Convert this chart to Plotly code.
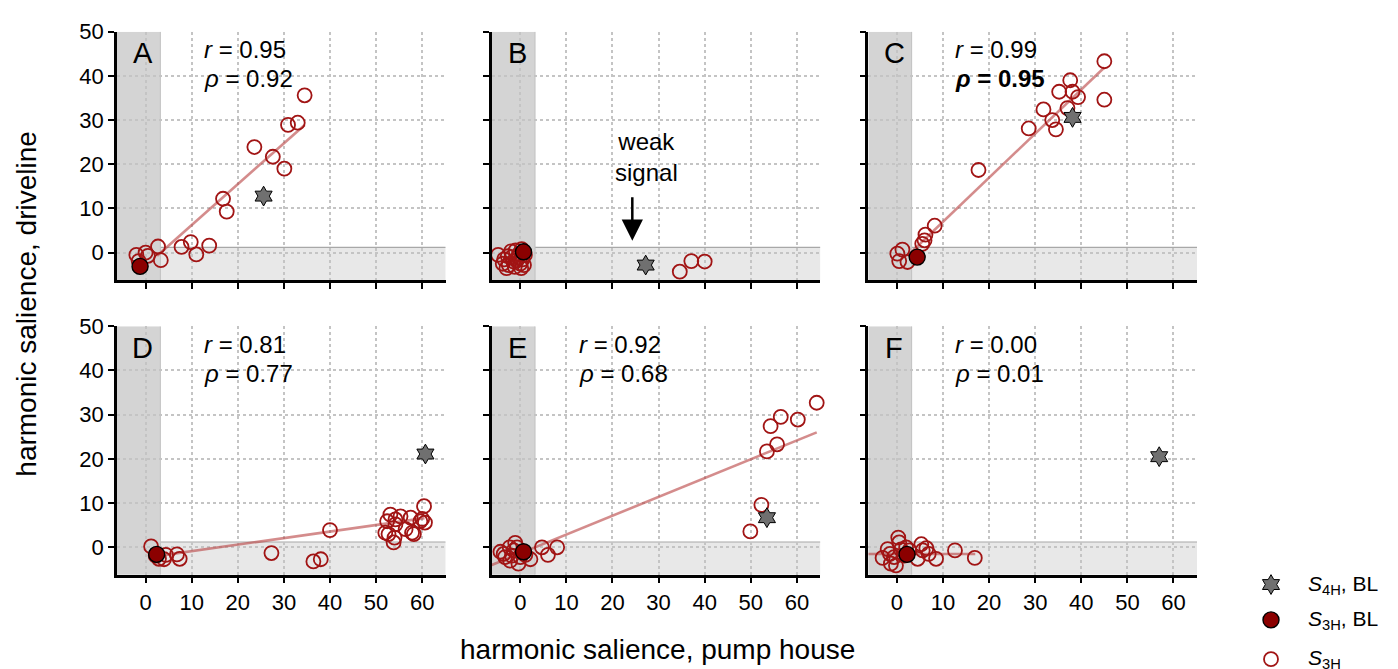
import plotly.graph_objects as go

# ---------------- data ----------------
panels = ["A", "B", "C", "D", "E", "F"]

A_x = [34.5, 30.9, 33.0, 23.6, 27.6, 30.1, 16.8, 17.6, 7.8, 9.8, 11.0, 13.8, 2.7, 3.3, -2.0, 0.0, 0.5, -1.5, -1.1]
A_y = [35.6, 28.9, 29.4, 23.9, 21.7, 19.0, 12.2, 9.3, 1.3, 2.4, -0.4, 1.6, 1.4, -1.7, -0.5, 0.0, -0.7, -1.9, -3.0]
B_x = [-4.8, -3.5, -2.5, -3.0, -1.5, -1.0, -0.5, 0.0, 0.5, -2.0, -1.2, 0.3, -0.3, 0.8, -2.7, 1.0, -0.8, -3.8, 0.2, -1.8, 34.6, 37.1, 40.0]
B_y = [-0.5, -1.5, -2.8, -3.5, -2.0, 0.5, -1.0, -2.5, -1.5, 0.3, -3.2, 0.8, -0.3, -2.8, -0.8, -0.5, -1.8, -2.5, -3.5, -1.0, -4.3, -1.9, -2.0]
C_x = [45.0, 45.0, 37.6, 35.2, 38.1, 39.3, 37.0, 31.8, 33.7, 34.5, 28.6, 17.7, 8.2, 6.2, 6.0, 5.5, 1.2, 0.1, 0.5, 2.3]
C_y = [43.3, 34.6, 39.0, 36.4, 36.4, 35.2, 32.7, 32.4, 30.0, 27.9, 28.1, 18.7, 6.1, 4.1, 2.8, 2.0, 0.7, -0.2, -1.9, -2.1]
D_x = [1.2, 2.2, 4.4, 4.0, 6.8, 7.4, 2.9, 27.3, 36.4, 38.0, 40.0, 52.4, 53.1, 54.2, 55.3, 52.0, 52.7, 53.8, 54.0,
       56.4, 57.5, 57.8, 58.2, 59.6, 60.0, 60.4, 60.6, 54.2]
D_y = [0.2, -1.9, -1.7, -2.7, -1.6, -2.6, -2.6, -1.3, -3.2, -2.7, 3.9, 5.9, 7.4, 6.3, 7.0, 3.3, 3.0, 1.1, 2.2,
       4.1, 6.7, 3.3, 3.0, 5.9, 6.4, 9.3, 5.6, 5.2]
E_x = [56.5, 54.3, 60.2, 64.3, 55.7, 53.5, 52.3, 49.9, -4.3, -3.3, -2.2, -1.4, -1.1, -0.4, -1.8, 2.2, 1.1, -0.7,
       -2.3, 4.7, 6.0, 8.0, 0.0, -3.6]
E_y = [29.5, 27.4, 28.9, 32.7, 23.3, 21.7, 9.6, 3.6, -1.0, -2.2, -3.0, -0.7, 1.0, -3.7, -1.9, -2.7, -1.7, 0.0,
       0.0, 0.0, -1.7, 0.0, -2.2, -1.5]
F_x = [-3.1, -2.0, -0.6, -1.3, -0.2, 0.3, 0.5, 0.9, 1.6, 2.7, 4.5, 5.3, 5.6, 6.4, 6.9, 8.5, 12.6, 16.9, -1.5, 2.0]
F_y = [-2.4, -0.4, -2.2, -3.7, -4.1, 2.2, 1.1, -0.5, -1.9, -0.7, -2.6, 0.7, -0.7, -0.2, -1.5, -2.6, -0.7, -2.4, -1.5, 0.0]

open_x = [A_x, B_x, C_x, D_x, E_x, F_x]
open_y = [A_y, B_y, C_y, D_y, E_y, F_y]

# S3H, BL (filled circle) per panel
bl3_x = [-1.2, 0.7, 4.4, 2.4, 0.7, 2.2]
bl3_y = [-3.1, 0.2, -1.0, -1.6, -1.0, -1.6]
# S4H, BL (star) per panel
bl4_x = [25.6, 27.2, 38.1, 60.7, 53.5, 56.9]
bl4_y = [12.8, -2.8, 30.6, 21.1, 6.7, 20.5]

# regression line endpoints (None = no line)
fit_x = [[2.5, 34.5], None, [2.3, 45.0], [2.4, 60.5], [-6.2, 64.3], [-6.2, 17.0]]
fit_y = [[-0.7, 28.9], None, [-0.7, 41.9], [-2.0, 6.6], [-4.0, 26.0], [-1.5, -1.5]]

r_vals = ["0.95", None, "0.99", "0.81", "0.92", "0.00"]
rho_vals = ["0.92", None, "0.95", "0.77", "0.68", "0.01"]
rho_bold = [False, False, True, False, False, False]

x_ticks = [0, 10, 20, 30, 40, 50, 60]
y_ticks = [0, 10, 20, 30, 40, 50]
x_range = [-6.2, 65.1]
y_range = [-6.2, 50.0]
band_x = 3.2   # vertical shaded band right edge
band_y = 1.2   # horizontal shaded band top edge

# ---------------- layout geometry ----------------
W, H = 1398, 669
col_px = [(117, 445.7), (491.7, 820.4), (868.3, 1197.0)]
row_px = [(20, 273), (320, 573)]

FONT = "Liberation Sans, Arial, Helvetica, sans-serif"
OPEN_COL = "#a11414"
FILL_COL = "#8b0000"
LINE_COL = "rgba(185,70,70,0.62)"

fig = go.Figure()
layout = dict(
    width=W, height=H,
    margin=dict(l=0, r=0, t=0, b=0),
    paper_bgcolor="white", plot_bgcolor="rgba(0,0,0,0)",
    showlegend=False,
    font=dict(family=FONT, color="black", size=22),
)
shapes = []
annotations = []

for i, name in enumerate(panels):
    row, col = divmod(i, 3)
    n = i + 1
    xa = "xaxis" if n == 1 else f"xaxis{n}"
    ya = "yaxis" if n == 1 else f"yaxis{n}"
    xr = "x" if n == 1 else f"x{n}"
    yr = "y" if n == 1 else f"y{n}"
    x0p, x1p = col_px[col]
    y0p, y1p = row_px[row]
    common = dict(
        showline=True, linewidth=2.5, linecolor="black",
        ticks="outside", ticklen=6, tickwidth=2, tickcolor="black",
        showgrid=True, gridcolor="#c4c4c4", gridwidth=1.6, griddash="dot",
        zeroline=False, fixedrange=True,
        tickfont=dict(family=FONT, size=22, color="black"),
    )
    layout[xa] = dict(common, domain=[x0p / W, x1p / W], range=x_range,
                      tickvals=x_ticks, showticklabels=(row == 1), anchor=yr)
    layout[ya] = dict(common, domain=[1 - y1p / H, 1 - y0p / H], range=y_range,
                      tickvals=y_ticks, showticklabels=(col == 0), anchor=xr)

    # shaded bands
    shapes.append(dict(type="rect", xref=xr, yref=yr, layer="below",
                       x0=x_range[0], x1=x_range[1], y0=y_range[0], y1=band_y,
                       fillcolor="#e8e8e8", line=dict(width=0)))
    shapes.append(dict(type="line", xref=xr, yref=yr, layer="below",
                       x0=band_x, x1=x_range[1], y0=band_y, y1=band_y,
                       line=dict(color="#a8a8a8", width=1.2)))
    shapes.append(dict(type="rect", xref=xr, yref=yr, layer="below",
                       x0=x_range[0], x1=band_x, y0=y_range[0], y1=y_range[1],
                       fillcolor="#d4d4d4", line=dict(width=0)))
    shapes.append(dict(type="line", xref=xr, yref=yr, layer="below",
                       x0=band_x, x1=band_x, y0=y_range[0], y1=y_range[1],
                       line=dict(color="#c0c0c0", width=1)))

    # regression line
    if fit_x[i] is not None:
        fig.add_trace(go.Scatter(x=fit_x[i], y=fit_y[i], mode="lines", xaxis=xr, yaxis=yr,
                                 line=dict(color=LINE_COL, width=2.6), hoverinfo="skip"))
    # open circles
    fig.add_trace(go.Scatter(x=open_x[i], y=open_y[i], mode="markers", xaxis=xr, yaxis=yr,
                             marker=dict(symbol="circle-open", size=14, color=OPEN_COL,
                                         line=dict(width=1.8, color=OPEN_COL)),
                             cliponaxis=False, name="S3H"))
    # filled BL circle
    fig.add_trace(go.Scatter(x=[bl3_x[i]], y=[bl3_y[i]], mode="markers", xaxis=xr, yaxis=yr,
                             marker=dict(symbol="circle", size=16, color=FILL_COL,
                                         line=dict(width=1.4, color="black")),
                             cliponaxis=False, name="S3H, BL"))
    # star
    fig.add_trace(go.Scatter(x=[bl4_x[i]], y=[bl4_y[i]], mode="markers", xaxis=xr, yaxis=yr,
                             marker=dict(symbol="hexagram", size=15, color="#707070",
                                         line=dict(width=1, color="black")),
                             cliponaxis=False, name="S4H, BL"))

    # panel letter
    annotations.append(dict(xref=xr, yref=yr, x=-0.6, y=45.1, text=name, showarrow=False,
                            xanchor="center", yanchor="middle",
                            font=dict(family=FONT, size=29, color="black")))
    if r_vals[i] is not None:
        annotations.append(dict(xref=xr, yref=yr, x=12.2, y=45.9, text=f"<i>r</i> = {r_vals[i]}",
                                showarrow=False, xanchor="left", yanchor="middle",
                                font=dict(family=FONT, size=24, color="black")))
        rt = f"<i>ρ</i> = {rho_vals[i]}"
        if rho_bold[i]:
            rt = f"<b>{rt}</b>"
        annotations.append(dict(xref=xr, yref=yr, x=12.2, y=39.3, text=rt,
                                showarrow=False, xanchor="left", yanchor="middle",
                                font=dict(family=FONT, size=24, color="black")))

# weak signal annotation (panel B)
annotations.append(dict(xref="x2", yref="y2", x=27.3, y=21.6, text="weak<br>signal",
                        showarrow=False, xanchor="center", yanchor="middle",
                        font=dict(family=FONT, size=24, color="black")))
annotations.append(dict(xref="x2", yref="y2", x=24.3, y=2.7, axref="x2", ayref="y2",
                        ax=24.3, ay=12.9, text="", showarrow=True, arrowhead=2,
                        arrowsize=1.7, arrowwidth=2.5, arrowcolor="black"))

# axis titles
annotations.append(dict(xref="paper", yref="paper", x=657 / W, y=1 - 649 / H,
                        text="harmonic salience, pump house", showarrow=False,
                        xanchor="center", yanchor="middle",
                        font=dict(family=FONT, size=28, color="black")))
annotations.append(dict(xref="paper", yref="paper", x=27 / W, y=1 - 297 / H,
                        text="harmonic salience, driveline", showarrow=False, textangle=-90,
                        xanchor="center", yanchor="middle",
                        font=dict(family=FONT, size=28, color="black")))

# legend drawn in a small pixel-space axis at the bottom right
lx0, lx1, ly0, ly1 = 1230, 1398, 560, 669
leg_labels = ["<i>S</i><sub>4H</sub>, BL", "<i>S</i><sub>3H</sub>, BL", "<i>S</i><sub>3H</sub>"]
leg_y = [583, 619, 659]
leg_x = [1271, 1271, 1271]
layout["xaxis7"] = dict(domain=[lx0 / W, lx1 / W], range=[lx0, lx1], visible=False,
                        fixedrange=True, anchor="y7")
layout["yaxis7"] = dict(domain=[1 - ly1 / H, 1 - ly0 / H], range=[ly1, ly0], visible=False,
                        fixedrange=True, anchor="x7")
fig.add_trace(go.Scatter(x=[leg_x[0]], y=[leg_y[0]], mode="markers", xaxis="x7", yaxis="y7",
                         marker=dict(symbol="hexagram", size=15, color="#707070",
                                     line=dict(width=1, color="black")), cliponaxis=False))
fig.add_trace(go.Scatter(x=[leg_x[1]], y=[leg_y[1]], mode="markers", xaxis="x7", yaxis="y7",
                         marker=dict(symbol="circle", size=16, color=FILL_COL,
                                     line=dict(width=1.4, color="black")), cliponaxis=False))
fig.add_trace(go.Scatter(x=[leg_x[2]], y=[leg_y[2]], mode="markers", xaxis="x7", yaxis="y7",
                         marker=dict(symbol="circle-open", size=14, color=OPEN_COL,
                                     line=dict(width=1.8, color=OPEN_COL)), cliponaxis=False))
for lab, ly in zip(leg_labels, leg_y):
    annotations.append(dict(xref="x7", yref="y7", x=1306, y=ly, text=lab, showarrow=False,
                            xanchor="left", yanchor="middle",
                            font=dict(family=FONT, size=21, color="black")))

layout["shapes"] = shapes
layout["annotations"] = annotations
fig.update_layout(**layout)
fig.write_html("out.html", config={"displayModeBar": False},
               post_script="document.body.style.margin='0px';")
